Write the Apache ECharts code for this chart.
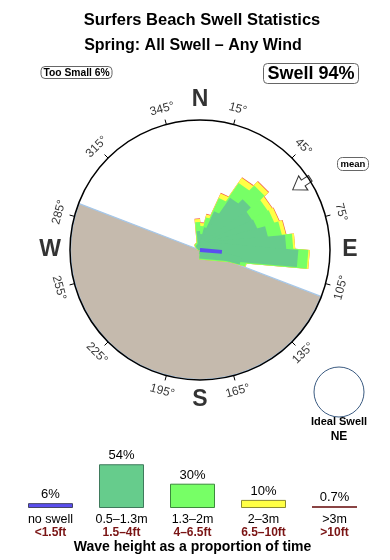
<!DOCTYPE html>
<html><head><meta charset="utf-8">
<script src="https://cdn.jsdelivr.net/npm/echarts@6/dist/echarts.min.js"></script>
<style>html,body{margin:0;padding:0;background:#fff}#c{width:390px;height:560px}</style>
</head><body><div id="c"></div>
<script>
// ---- data ----
const dirBins   = [355, 5, 15, 25, 35, 45, 55, 65, 75, 85, 95, 105];
const noSwell   = [0, 0, 0, 0, 0, 0, 0, 0, 3, 6, 22, 6];
const band1     = [19, 16, 23, 41, 60, 66, 60, 61, 66, 80, 76, 36];
const band2     = [9, 8, 10, 14, 17, 18, 18, 18, 14, 7, 10, 6];
const band3     = [3, 3, 3, 5, 6, 5, 5, 5, 4, 2, 1.5, 0.5];
const band4     = [0.7, 0.7, 0.6, 0.6, 0.8, 0.8, 0.6, 0.6, 0.6, 0, 0, 0];
const compassTicks = [15, 45, 75, 105, 135, 165, 195, 225, 255, 285, 315, 345];
const cardinals    = ['N', 'E', 'S', 'W'];
const cardinalDeg  = [0, 90, 180, 270];
const meanDir      = 57;
const coastDir     = 111;
const heightCats   = ['no swell', '0.5\u20131.3m', '1.3\u20132m', '2\u20133m', '>3m'];
const heightFeet   = ['<1.5ft', '1.5\u20134ft', '4\u20136.5ft', '6.5\u201310ft', '>10ft'];
const heightPct    = [6, 54, 30, 10, 0.7];

// ---- build ----
const FONT = 'Liberation Sans, Arial, Helvetica, sans-serif';
const bandColors = ['#5a4ef0', '#66cc8c', '#77ff66', '#ffff44', '#f05a4a'];
const bands = [noSwell, band1, band2, band3, band4];
const legendColors = ['#5a4ef0', '#66cc8c', '#77ff66', '#ffff44', '#8a4444'];
const legendBorders = ['#444466', '#3f7a5c', '#3c8a3c', '#8a8a30', '#8a4444'];
const HALF_BIN = 5 * Math.PI / 180;

function labelRot(d) { return (d > 90 && d < 270) ? d - 180 : d; }

function petalSeries(k) {
  const cum = dirBins.map((d, i) => bands.slice(0, k + 1).reduce((s, b) => s + b[i], 0));
  return {
    type: 'custom', coordinateSystem: 'polar', polarIndex: 1, z: 7 - k, silent: true,
    data: dirBins.map((d, i) => [cum[i], d]),
    renderItem: (params, api) => {
      const r = api.value(0), d = api.value(1);
      if (!(r > 0)) return null;
      const c = api.coord([0, d]), t = api.coord([r, d]);
      const dx = t[0] - c[0], dy = t[1] - c[1];
      const len = Math.hypot(dx, dy);
      const hw = len * Math.tan(HALF_BIN);
      const px = -dy / len * hw, py = dx / len * hw;
      return {type: 'polygon',
        shape: {points: [[c[0] + px, c[1] + py], [t[0] + px, t[1] + py], [t[0] - px, t[1] - py], [c[0] - px, c[1] - py]]},
        style: {fill: bandColors[k]}};
    }
  };
}

const chart = echarts.init(document.getElementById('c'), null, {renderer: 'canvas'});
const option = {
  animation: false,
  textStyle: {fontFamily: FONT},
  title: [
    {text: 'Surfers Beach Swell Statistics', left: 197, top: 7, textAlign: 'center',
      textStyle: {fontSize: 16.5, fontWeight: 'bold', color: '#000', fontFamily: FONT}},
    {text: 'Spring: All Swell \u2013 Any Wind', left: 188, top: 33, textAlign: 'center',
      textStyle: {fontSize: 16, fontWeight: 'bold', color: '#000', fontFamily: FONT}},
    {text: 'Too Small 6%', left: 73.5, top: 66, textAlign: 'center', padding: [2, 3, 1, 3],
      borderColor: '#666', borderWidth: 1, borderRadius: 4,
      textStyle: {fontSize: 10.3, fontWeight: 'bold', color: '#000', fontFamily: FONT}},
    {text: 'Swell 94%', left: 307, top: 63, textAlign: 'center', padding: [2, 4, 1, 4],
      borderColor: '#666', borderWidth: 1, borderRadius: 4,
      textStyle: {fontSize: 18, fontWeight: 'bold', color: '#000', fontFamily: FONT}},
    {text: 'mean', left: 350, top: 157, textAlign: 'center', padding: [2, 3, 2, 3],
      borderColor: '#666', borderWidth: 1, borderRadius: 5,
      textStyle: {fontSize: 9.5, fontWeight: 'bold', color: '#000', fontFamily: FONT}},
    {text: 'Ideal Swell', left: 339, top: 416, textAlign: 'center', padding: 0,
      textStyle: {fontSize: 11, fontWeight: 'bold', color: '#000', fontFamily: FONT}},
    {text: 'NE', left: 339, top: 431, textAlign: 'center', padding: 0,
      textStyle: {fontSize: 12, fontWeight: 'bold', color: '#000', fontFamily: FONT}}
  ],
  graphic: [
    {type: 'circle', shape: {cx: 339, cy: 392, r: 25}, style: {fill: 'none', stroke: '#3a5a80', lineWidth: 1}}
  ],
  polar: [
    {center: [200, 250], radius: 130},
    {center: [200, 250], radius: 160},
    {center: [200, 250], radius: 130}
  ],
  angleAxis: [
    {polarIndex: 0, type: 'value', min: 0, max: 360, startAngle: 90, clockwise: true, z: 10,
      axisLine: {show: true, lineStyle: {color: '#000', width: 1.5}},
      axisTick: {show: false}, axisLabel: {show: false}, splitLine: {show: false}},
    {polarIndex: 1, type: 'value', min: 0, max: 360, startAngle: 90, clockwise: true,
      axisLine: {show: false}, axisTick: {show: false}, axisLabel: {show: false}, splitLine: {show: false}},
    {polarIndex: 2, type: 'value', min: 0, max: 360, interval: 30, startAngle: 75, clockwise: true, z: 10,
      axisLine: {show: false}, axisTick: {show: true, length: 5, lineStyle: {color: '#000', width: 1}},
      axisLabel: {show: false}, splitLine: {show: false}}
  ],
  radiusAxis: [
    {polarIndex: 0, min: 0, max: 130, axisLine: {show: false}, axisTick: {show: false}, axisLabel: {show: false}, splitLine: {show: false}},
    {polarIndex: 1, min: 0, max: 160, axisLine: {show: false}, axisTick: {show: false}, axisLabel: {show: false}, splitLine: {show: false}},
    {polarIndex: 2, min: 0, max: 130, axisLine: {show: false}, axisTick: {show: false}, axisLabel: {show: false}, splitLine: {show: false}}
  ],
  grid: {left: 15, width: 355, top: 427, height: 81},
  xAxis: {type: 'category', data: heightCats,
    axisLine: {show: false}, axisTick: {show: false},
    axisLabel: {margin: 5, interval: 0,
      formatter: (v, i) => '{a|' + v + '}\n{b|' + heightFeet[i] + '}',
      rich: {a: {fontSize: 12.5, color: '#000', lineHeight: 13, fontFamily: FONT},
             b: {fontSize: 12, fontWeight: 'bold', color: '#7a1414', lineHeight: 13, fontFamily: FONT}}},
    name: 'Wave height as a proportion of time', nameLocation: 'middle', nameGap: 32,
    nameTextStyle: {fontSize: 14, fontWeight: 'bold', color: '#000', fontFamily: FONT}},
  yAxis: {type: 'value', min: 0, max: 100, show: false},
  series: [
    {type: 'pie', center: [200, 250], radius: [0, 129.5], startAngle: 90 - coastDir, clockwise: true,
      silent: true, z: 1, label: {show: false}, labelLine: {show: false},
      emphasis: {disabled: true},
      data: [
        {value: 180, itemStyle: {color: '#c5baad', borderColor: '#a6c8ea', borderWidth: 1.2}},
        {value: 180, itemStyle: {color: 'rgba(0,0,0,0)', borderWidth: 0}}
      ]},
    petalSeries(4), petalSeries(3), petalSeries(2), petalSeries(1), petalSeries(0),
    {type: 'scatter', coordinateSystem: 'polar', polarIndex: 1, symbolSize: 1, silent: true, z: 8,
      itemStyle: {color: 'rgba(0,0,0,0)'},
      data: compassTicks.map(d => ({value: [146, d],
        label: {show: true, position: 'inside', formatter: d + '\u00b0', rotate: -labelRot(d),
          fontSize: 12, color: '#000', fontFamily: FONT}}))},
    {type: 'scatter', coordinateSystem: 'polar', polarIndex: 1, symbolSize: 1, silent: true, z: 8,
      itemStyle: {color: 'rgba(0,0,0,0)'},
      data: cardinals.map((c, i) => ({value: [150, cardinalDeg[i]],
        label: {show: true, position: 'inside', formatter: c, fontSize: 23, fontWeight: 'bold', color: '#000', fontFamily: FONT}}))},
    {type: 'scatter', coordinateSystem: 'polar', polarIndex: 1, silent: true, z: 9,
      symbol: 'path://M5,0 L10,9 L7,9 L7,15 L3,15 L3,9 L0,9 Z', symbolSize: [17, 21],
      symbolRotate: 180 - meanDir,
      itemStyle: {color: '#fff', borderColor: '#000', borderWidth: 1},
      data: [[121, meanDir]]},
    {type: 'bar', xAxisIndex: 0, yAxisIndex: 0, barWidth: 45, barMinHeight: 2, silent: true,
      data: heightPct.map((p, i) => ({value: p,
        itemStyle: {color: legendColors[i], borderColor: legendBorders[i], borderWidth: i === 4 ? 0 : 1}})),
      label: {show: true, position: 'top', distance: 2, formatter: p => p.value + '%',
        fontSize: 13, color: '#000', fontFamily: FONT}}
  ]
};
chart.setOption(option);
</script></body></html>
